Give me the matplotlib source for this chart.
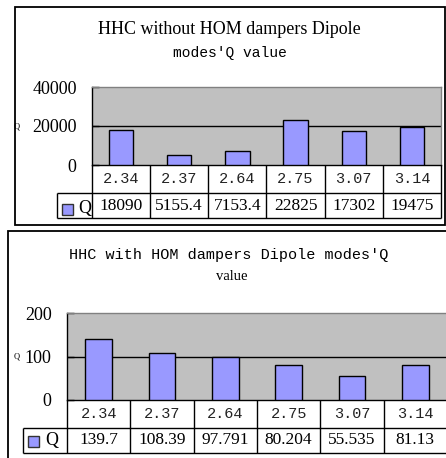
import matplotlib
matplotlib.use("Agg")
import matplotlib.pyplot as plt
from matplotlib.patches import Rectangle

# ---- data ----
categories = ["2.34", "2.37", "2.64", "2.75", "3.07", "3.14"]
q_without = [18090, 5155.4, 7153.4, 22825, 17302, 19475]
q_with = [139.7, 108.39, 97.791, 80.204, 55.535, 81.13]
title_top = ["HHC without HOM dampers Dipole", "modes'Q value"]
title_bot = ["HHC with HOM dampers Dipole modes'Q", "value"]
series_name = "Q"
yticks_top = [0, 20000, 40000]
yticks_bot = [0, 100, 200]

SERIF = "Liberation Serif"
MONO = "Liberation Mono"
BAR = "#9999FF"
GRAY = "#C0C0C0"

W, H = 446, 458
fig = plt.figure(figsize=(W / 100, H / 100), dpi=100)
fig.patch.set_facecolor("white")


def fbox(x0, y0, x1, y1):
    return [x0 / W, 1 - y1 / H, (x1 - x0) / W, (y1 - y0) / H]


def fx(x):
    return x / W


def fy(y):
    return 1 - y / H


def chart(box, tbox, values, yticks, row1_h, row2_h, legend_px, col_px, fs_tick, fs_row1, fs_row2):
    ax = fig.add_axes(fbox(*box))
    x = list(range(len(categories)))
    ax.set_facecolor(GRAY)
    ax.bar(x, values, width=0.42, color=BAR, edgecolor="black", linewidth=1.0, zorder=3)
    ax.set_xlim(-0.5, len(categories) - 0.5)
    ax.set_ylim(yticks[0], yticks[-1])
    ax.set_yticks(yticks)
    ax.set_yticklabels([str(t) for t in yticks], fontfamily=SERIF, fontsize=fs_tick)
    ax.tick_params(axis="y", direction="in", length=5, width=1, pad=11, colors="black")
    ax.set_xticks([])
    for t in yticks[1:-1]:
        ax.axhline(t, color="black", lw=1.0, zorder=2)
    ax.spines["left"].set_color("black")
    ax.spines["bottom"].set_color("black")
    ax.spines["top"].set_color("#808080")
    ax.spines["right"].set_color("#808080")
    for s in ax.spines.values():
        s.set_linewidth(1.0)

    # table axes
    tx = fig.add_axes(fbox(*tbox))
    lw_data = legend_px / col_px
    tx.set_xlim(-0.5 - lw_data, len(categories) - 0.5)
    total = row1_h + row2_h
    tx.set_ylim(total, 0)
    tx.axis("off")
    tx.patch.set_alpha(0)
    kw = dict(color="black", lw=1.0, clip_on=False, solid_capstyle="butt")
    tx.plot([-0.5 - lw_data, len(categories) - 0.5], [row1_h, row1_h], **kw)
    tx.plot([-0.5 - lw_data, len(categories) - 0.5], [total, total], **kw)
    for k in range(len(categories) + 1):
        tx.plot([k - 0.5, k - 0.5], [0, total], **kw)
    tx.plot([-0.5 - lw_data, -0.5 - lw_data], [row1_h, total], **kw)
    for i, c in enumerate(categories):
        tx.text(i, row1_h / 2, c, ha="center", va="center", fontfamily=MONO, fontsize=fs_row1,
                color="#222222")
        tx.text(i, row1_h + row2_h / 2, f"{values[i]:g}", ha="center", va="center",
                fontfamily=SERIF, fontsize=fs_row2)
    return ax, tx


# ---- top chart ----
fig.patches.append(Rectangle((fx(14.7), fy(225)), (445 - 14.7) / W, (225 - 7.3) / H,
                             transform=fig.transFigure, fill=False, edgecolor="black", lw=1.3))
chart((92, 87, 441, 165), (57, 165, 441, 218), q_without, yticks_top, 28, 25, 35, 58.17,
      13, 11, 12.5)
fig.text(fx(229), fy(30), title_top[0], ha="center", va="center", fontfamily=SERIF, fontsize=13)
fig.text(fx(230), fy(53), title_top[1], ha="center", va="center", fontfamily=MONO, fontsize=10.5)
fig.text(fx(17), fy(127), series_name, ha="center", va="center", fontfamily=SERIF, fontsize=6)
fig.patches.append(Rectangle((fx(62), fy(215)), 11 / W, 11 / H, transform=fig.transFigure,
                             facecolor=BAR, edgecolor="#333333", lw=1.0))
fig.text(fx(78), fy(209), series_name, ha="left", va="center", fontfamily=SERIF, fontsize=13)

# ---- bottom chart ----
fig.patches.append(Rectangle((fx(7.5), fy(475)), (460 - 7.5) / W, (475 - 231) / H,
                             transform=fig.transFigure, fill=False, edgecolor="black", lw=1.3,
                             clip_on=False))
chart((67, 313, 447, 400), (23, 400, 447, 453), q_with, yticks_bot, 28, 25, 44, 63.33,
      13, 11, 12.5)
fig.text(fx(229), fy(255), title_bot[0], ha="center", va="center", fontfamily=MONO, fontsize=10.9)
fig.text(fx(232), fy(277), title_bot[1], ha="center", va="center", fontfamily=SERIF, fontsize=10.5)
fig.text(fx(17), fy(357), series_name, ha="center", va="center", fontfamily=SERIF, fontsize=6)
fig.patches.append(Rectangle((fx(28), fy(447)), 11 / W, 11 / H, transform=fig.transFigure,
                             facecolor=BAR, edgecolor="#333333", lw=1.0))
fig.text(fx(45), fy(441), series_name, ha="left", va="center", fontfamily=SERIF, fontsize=13)

fig.savefig("out.png", dpi=100)
